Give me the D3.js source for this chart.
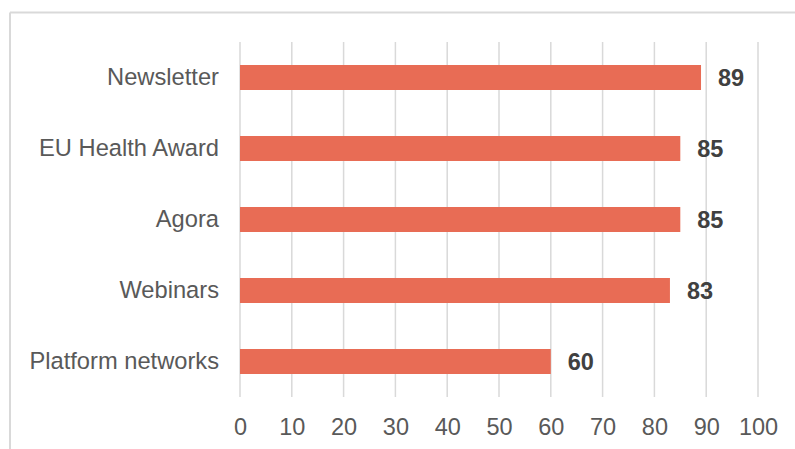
<!DOCTYPE html>
<html>
<head>
<meta charset="utf-8">
<script src="https://cdn.jsdelivr.net/npm/d3@7"></script>
<style>
  html, body { margin: 0; padding: 0; background: #fff; }
  svg { display: block; }
  text { font-family: "Liberation Sans", Arial, sans-serif; }
</style>
</head>
<body>
<svg id="chart" width="795" height="449"></svg>
<script>
// Channels and their scores
const categories = ["Newsletter", "EU Health Award", "Agora", "Webinars", "Platform networks"];
const values = [89, 85, 85, 83, 60];
const tickValues = [0, 10, 20, 30, 40, 50, 60, 70, 80, 90, 100];

const svg = d3.select("#chart");
const W = 795, H = 449;

// outer frame (top and left edges visible)
svg.append("line").attr("x1", 10).attr("x2", W).attr("y1", 12.5).attr("y2", 12.5)
  .attr("stroke", "#d9d9d9").attr("stroke-width", 2);
svg.append("line").attr("x1", 10).attr("x2", 10).attr("y1", 12.5).attr("y2", H)
  .attr("stroke", "#d9d9d9").attr("stroke-width", 2);

const plotTop = 42, plotBottom = 397;
const x = d3.scaleLinear().domain([0, 100]).range([240, 758]);
const y = d3.scaleBand().domain(categories).range([plotTop, plotBottom])
  .paddingInner(0.648).paddingOuter(0.324);

// vertical gridlines
svg.append("g").selectAll("line").data(tickValues).join("line")
  .attr("x1", d => x(d)).attr("x2", d => x(d))
  .attr("y1", plotTop).attr("y2", plotBottom)
  .attr("stroke", "#d9d9d9").attr("stroke-width", 1.5);

// bars
svg.append("g").selectAll("rect").data(values).join("rect")
  .attr("x", x(0))
  .attr("y", (d, i) => y(categories[i]))
  .attr("width", d => x(d) - x(0))
  .attr("height", y.bandwidth())
  .attr("fill", "#e86c55");

// value labels
svg.append("g").selectAll("text").data(values).join("text")
  .attr("x", d => x(d) + 17)
  .attr("y", (d, i) => y(categories[i]) + y.bandwidth() / 2 + 2.5)
  .attr("dominant-baseline", "middle")
  .attr("font-size", 23.5)
  .attr("font-weight", "bold")
  .attr("fill", "#404040")
  .text(d => d);

// category axis labels
svg.append("g").selectAll("text").data(categories).join("text")
  .attr("x", 219)
  .attr("y", d => y(d) + y.bandwidth() / 2 + 1)
  .attr("text-anchor", "end")
  .attr("dominant-baseline", "middle")
  .attr("font-size", 23.7)
  .attr("fill", "#595959")
  .text(d => d);

// value axis
const xAxis = d3.axisBottom(x).tickValues(tickValues).tickSize(0).tickPadding(0);
const ax = svg.append("g").attr("transform", `translate(0, ${plotBottom})`).call(xAxis);
ax.select(".domain").remove();
ax.selectAll("text")
  .attr("y", 30)
  .attr("dy", "0.35em")
  .attr("font-size", 23.5)
  .attr("font-family", "Liberation Sans, Arial, sans-serif")
  .attr("fill", "#595959");
</script>
</body>
</html>
